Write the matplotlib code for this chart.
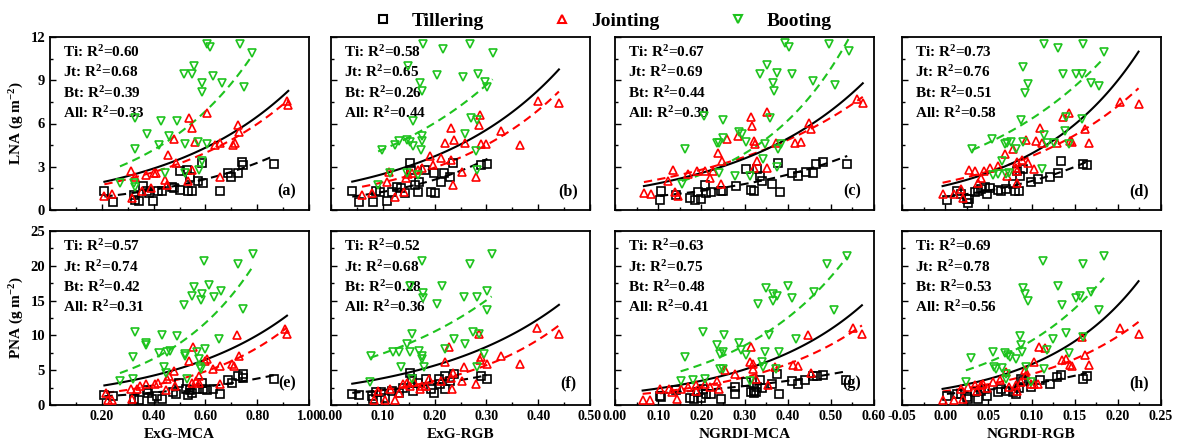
import numpy as np
import matplotlib.pyplot as plt
from matplotlib.lines import Line2D
from matplotlib.ticker import MultipleLocator, FixedLocator

plt.rcParams['font.family'] = ['Liberation Serif', 'DejaVu Serif']
plt.rcParams['font.weight'] = 'bold'
plt.rcParams['mathtext.fontset'] = 'custom'
plt.rcParams['mathtext.rm'] = 'Liberation Serif:bold'
plt.rcParams['mathtext.it'] = 'Liberation Serif:bold'
plt.rcParams['mathtext.bf'] = 'Liberation Serif:bold'
plt.rcParams['mathtext.default'] = 'rm'

# ---- data ---------------------------------------------------------------
# (a) ExG-MCA vs LNA
a_ti_x = [0.21, 0.245, 0.324, 0.327, 0.342, 0.36, 0.376, 0.383, 0.398, 0.417, 0.434, 0.47, 0.48, 0.502,
          0.502, 0.53, 0.532, 0.54, 0.547, 0.57, 0.592, 0.588, 0.655, 0.688, 0.70, 0.725, 0.743, 0.745, 0.866]
a_ti_y = [1.3, 0.55, 1.05, 0.7, 0.6, 1.65, 1.35, 1.15, 0.65, 1.3, 1.3, 1.6, 1.5, 2.7,
          1.4, 2.8, 1.3, 2.3, 1.3, 2.0, 1.85, 3.25, 1.3, 2.6, 2.3, 2.6, 3.35, 3.15, 3.2]
a_jt_x = [0.21, 0.24, 0.318, 0.313, 0.33, 0.37, 0.40, 0.41, 0.456, 0.443, 0.45, 0.48, 0.487, 0.535, 0.55,
          0.547, 0.56, 0.606, 0.636, 0.658, 0.658, 0.706, 0.713, 0.725, 0.728, 0.915, 0.92, 0.354, 0.39, 0.532]
a_jt_y = [1.0, 1.1, 0.8, 2.7, 2.3, 2.45, 2.6, 2.6, 3.8, 2.1, 1.75, 4.9, 3.25, 6.4, 5.7,
          2.8, 4.75, 6.75, 4.5, 4.65, 2.3, 4.5, 4.65, 5.9, 5.4, 7.55, 7.3, 1.3, 1.5, 2.0]
a_bt_x = [0.327, 0.328, 0.373, 0.42, 0.43, 0.46, 0.49, 0.445, 0.517, 0.547, 0.557, 0.52, 0.57, 0.585, 0.587,
          0.606, 0.618, 0.63, 0.663, 0.733, 0.75, 0.78, 0.606, 0.588, 0.574, 0.52, 0.27, 0.325, 0.33]
a_bt_y = [6.4, 4.2, 5.3, 4.5, 6.2, 5.1, 6.2, 2.55, 9.4, 9.4, 10.0, 4.6, 4.75, 8.8, 8.2,
          11.5, 11.3, 9.3, 8.8, 11.5, 8.5, 10.9, 4.6, 3.4, 2.8, 2.55, 1.85, 1.85, 1.6]

# (b) ExG-RGB vs LNA
b_ti_x = [0.041, 0.055, 0.081, 0.086, 0.094, 0.108, 0.117, 0.128, 0.135, 0.142, 0.153, 0.155, 0.162,
          0.17, 0.181, 0.194, 0.201, 0.198, 0.212, 0.218, 0.229, 0.236, 0.29, 0.302, 0.167]
b_ti_y = [1.35, 0.58, 0.58, 1.32, 1.28, 0.63, 1.28, 1.62, 1.51, 1.2, 3.25, 2.78, 1.74,
          1.97, 2.78, 1.28, 1.2, 2.55, 1.97, 2.55, 2.32, 3.25, 3.13, 3.18, 1.28]
b_jt_x = [0.06, 0.08, 0.109, 0.112, 0.124, 0.141, 0.145, 0.148, 0.157, 0.167, 0.192, 0.196, 0.22, 0.231, 0.231,
          0.235, 0.238, 0.253, 0.258, 0.279, 0.286, 0.288, 0.29, 0.299, 0.328, 0.365, 0.40, 0.44, 0.176, 0.212]
b_jt_y = [1.04, 1.2, 1.97, 2.67, 0.93, 1.28, 2.2, 2.48, 2.55, 2.78, 3.78, 3.09, 4.64, 5.69, 3.48,
          1.74, 4.87, 2.67, 4.64, 2.32, 5.92, 6.61, 4.57, 4.6, 5.45, 4.53, 7.54, 7.43, 2.9, 3.6]
b_bt_x = [0.098, 0.124, 0.131, 0.146, 0.152, 0.158, 0.158, 0.149, 0.172, 0.176, 0.178, 0.176, 0.176, 0.174,
          0.216, 0.205, 0.254, 0.269, 0.259, 0.271, 0.282, 0.283, 0.297, 0.301, 0.312, 0.279, 0.282,
          0.091, 0.113, 0.146, 0.168]
b_bt_y = [4.13, 4.48, 4.76, 4.87, 4.69, 4.41, 6.15, 9.98, 8.82, 8.24, 11.49, 5.1, 4.76, 4.18,
          11.19, 9.33, 9.24, 11.49, 5.29, 6.38, 6.27, 9.4, 8.87, 8.54, 10.9, 4.06, 2.78,
          1.74, 2.55, 2.55, 2.44]

# (c) NGRDI-MCA vs LNA
c_ti_x = [0.106, 0.104, 0.141, 0.174, 0.185, 0.199, 0.193, 0.209, 0.211, 0.222, 0.246, 0.281, 0.303, 0.316,
          0.323, 0.328, 0.336, 0.341, 0.363, 0.378, 0.383, 0.411, 0.424, 0.443, 0.459, 0.466, 0.483, 0.538, 0.251]
c_ti_y = [1.32, 0.67, 1.02, 0.81, 0.67, 0.74, 1.25, 1.71, 1.2, 1.25, 1.32, 1.66, 2.82, 1.39,
          1.32, 2.82, 2.36, 2.01, 1.82, 3.28, 1.25, 2.59, 2.36, 2.63, 2.59, 3.16, 3.35, 3.16, 1.32]
c_jt_x = [0.067, 0.083, 0.134, 0.139, 0.146, 0.17, 0.191, 0.209, 0.22, 0.227, 0.238, 0.247, 0.246, 0.26, 0.286,
          0.314, 0.317, 0.321, 0.325, 0.328, 0.323, 0.352, 0.352, 0.374, 0.418, 0.431, 0.449, 0.455, 0.561,
          0.574, 0.123]
c_jt_y = [1.2, 1.13, 2.77, 1.25, 0.97, 2.47, 2.7, 2.7, 2.24, 2.7, 3.97, 3.39, 1.82, 4.95, 5.13,
          6.44, 5.82, 4.78, 4.55, 3.39, 2.93, 6.81, 2.93, 4.67, 4.62, 4.74, 6.05, 5.59, 7.67,
          7.44, 2.01]
c_bt_x = [0.163, 0.206, 0.155, 0.25, 0.237, 0.241, 0.251, 0.242, 0.279, 0.288, 0.295, 0.304, 0.312, 0.335,
          0.352, 0.358, 0.348, 0.343, 0.367, 0.369, 0.376, 0.378, 0.376, 0.385, 0.394, 0.402, 0.411, 0.459,
          0.495, 0.51, 0.543]
c_bt_y = [4.2, 6.51, 1.82, 6.24, 4.67, 4.62, 4.97, 2.59, 2.36, 5.4, 5.24, 4.74, 2.36, 9.45,
          10.09, 6.35, 4.55, 3.51, 8.82, 8.24, 9.52, 4.2, 2.98, 4.55, 11.59, 11.32, 9.45, 8.94,
          11.52, 8.64, 11.06]

# (d) NGRDI-RGB vs LNA
d_ti_x = [0.002, 0.014, 0.018, 0.025, 0.026, 0.028, 0.034, 0.038, 0.042, 0.048, 0.046, 0.052, 0.061, 0.065,
          0.07, 0.079, 0.081, 0.086, 0.087, 0.083, 0.09, 0.099, 0.121, 0.131, 0.134, 0.16, 0.164, 0.108]
d_ti_y = [0.67, 1.32, 1.13, 0.74, 0.5, 0.79, 1.25, 1.32, 1.43, 1.09, 1.62, 1.55, 1.39, 1.32,
          1.48, 1.78, 1.32, 1.32, 2.36, 2.7, 2.82, 1.94, 2.29, 2.59, 3.37, 3.16, 3.12, 2.12]
d_jt_x = [-0.003, 0.01, 0.018, 0.021, 0.028, 0.034, 0.038, 0.041, 0.045, 0.052, 0.061, 0.069, 0.072, 0.079,
          0.083, 0.083, 0.083, 0.089, 0.094, 0.096, 0.103, 0.105, 0.11, 0.112, 0.129, 0.136, 0.144, 0.145,
          0.147, 0.162, 0.167, 0.202, 0.224, 0.082]
d_jt_y = [1.13, 1.09, 1.45, 0.81, 2.77, 2.7, 1.89, 2.24, 2.7, 2.93, 3.05, 3.9, 2.35, 4.2,
          2.7, 1.89, 3.32, 3.44, 4.83, 3.28, 2.84, 4.78, 5.72, 4.67, 4.67, 6.46, 6.76, 4.78,
          4.74, 5.59, 4.62, 7.5, 7.37, 2.93]
d_bt_x = [0.031, 0.054, 0.069, 0.072, 0.076, 0.066, 0.061, 0.07, 0.074, 0.055, 0.088, 0.09, 0.09, 0.096,
          0.093, 0.082, 0.114, 0.114, 0.112, 0.118, 0.126, 0.131, 0.136, 0.139, 0.14, 0.143, 0.152, 0.158,
          0.16, 0.169, 0.178, 0.184, 0.159]
d_bt_y = [4.2, 4.9, 4.55, 4.67, 4.71, 3.43, 2.5, 2.5, 2.54, 2.42, 6.24, 4.74, 9.95, 8.73,
          8.15, 4.2, 5.2, 11.48, 2.84, 4.67, 4.67, 11.25, 9.4, 5.49, 6.44, 4.55, 9.4, 9.45,
          11.48, 8.82, 8.59, 10.97, 6.3]

# (e) ExG-MCA vs PNA
e_ti_x = [0.21, 0.242, 0.324, 0.342, 0.376, 0.38, 0.395, 0.413, 0.431, 0.473, 0.487, 0.499, 0.527, 0.532,
          0.542, 0.547, 0.569, 0.588, 0.591, 0.655, 0.688, 0.703, 0.725, 0.744, 0.744, 0.866, 0.606, 0.629]
e_ti_y = [1.5, 1.36, 0.87, 0.78, 2.09, 1.75, 0.87, 1.26, 0.87, 1.84, 1.65, 3.2, 2.23, 1.5,
          2.14, 1.75, 2.23, 3.2, 2.23, 1.65, 3.59, 3.1, 4.17, 4.42, 3.93, 3.69, 2.14, 2.23]
e_jt_x = [0.223, 0.238, 0.215, 0.316, 0.313, 0.334, 0.346, 0.371, 0.406, 0.416, 0.453, 0.458, 0.446, 0.48,
          0.483, 0.535, 0.551, 0.547, 0.562, 0.577, 0.599, 0.606, 0.629, 0.658, 0.658, 0.703, 0.71, 0.728,
          0.722, 0.908, 0.915, 0.577]
e_jt_y = [0.78, 0.78, 1.75, 0.87, 2.33, 2.23, 2.72, 2.96, 2.96, 3.2, 3.69, 4.17, 2.09, 4.9,
          2.72, 6.36, 8.3, 3.2, 3.45, 4.17, 6.36, 6.6, 5.15, 2.96, 5.63, 5.87, 5.63, 7.09,
          10.1, 10.97, 10.15, 3.2]
e_bt_x = [0.27, 0.321, 0.321, 0.329, 0.369, 0.372, 0.42, 0.431, 0.44, 0.446, 0.453, 0.465, 0.49, 0.517,
          0.52, 0.523, 0.53, 0.547, 0.557, 0.569, 0.577, 0.58, 0.584, 0.585, 0.594, 0.599, 0.614, 0.632,
          0.654, 0.661, 0.725, 0.747, 0.782, 0.584]
e_bt_y = [3.4, 3.79, 6.84, 10.49, 8.88, 8.69, 7.43, 10.0, 5.39, 4.66, 7.57, 7.82, 9.9, 14.37,
          7.33, 7.09, 3.69, 15.68, 16.89, 7.57, 6.6, 5.39, 15.1, 15.97, 20.68, 8.06, 17.18, 15.58,
          9.51, 16.41, 20.29, 13.74, 21.65, 5.15]

# (f) ExG-RGB vs PNA
f_ti_x = [0.041, 0.054, 0.08, 0.081, 0.087, 0.097, 0.105, 0.117, 0.131, 0.139, 0.153, 0.157, 0.159,
          0.168, 0.183, 0.194, 0.198, 0.209, 0.211, 0.22, 0.229, 0.238, 0.29, 0.301, 0.22]
f_ti_y = [1.65, 1.41, 1.26, 0.87, 1.89, 1.89, 1.02, 1.99, 1.75, 2.48, 4.66, 3.69, 1.99,
          3.2, 3.69, 2.23, 1.75, 3.69, 2.96, 4.17, 3.45, 4.42, 4.17, 3.69, 2.23]
f_jt_x = [0.083, 0.091, 0.105, 0.113, 0.124, 0.131, 0.139, 0.146, 0.152, 0.161, 0.172, 0.176, 0.19, 0.212,
          0.22, 0.227, 0.231, 0.233, 0.235, 0.253, 0.257, 0.279, 0.286, 0.288, 0.29, 0.301, 0.328, 0.365,
          0.398, 0.44, 0.183]
f_jt_y = [0.78, 1.99, 0.78, 2.23, 0.78, 1.75, 3.06, 3.2, 2.72, 3.3, 2.23, 2.72, 3.69, 3.45,
          6.12, 8.3, 3.93, 2.23, 4.66, 3.45, 5.39, 2.96, 10.24, 6.5, 6.84, 5.87, 7.09, 5.87,
          11.12, 10.24, 2.72]
f_bt_x = [0.076, 0.078, 0.12, 0.131, 0.135, 0.146, 0.156, 0.152, 0.153, 0.17, 0.176, 0.177, 0.178, 0.176,
          0.176, 0.179, 0.205, 0.214, 0.22, 0.237, 0.257, 0.258, 0.268, 0.274, 0.295, 0.281, 0.301, 0.302,
          0.31, 0.286, 0.282, 0.157]
f_bt_y = [3.35, 7.09, 7.57, 7.67, 5.49, 8.79, 10.24, 7.67, 17.04, 7.82, 20.68, 16.07, 15.34, 7.09,
          6.6, 5.53, 14.47, 17.04, 8.06, 9.51, 15.58, 8.79, 20.29, 10.49, 7.33, 15.58, 16.31, 13.64,
          21.65, 10.15, 5.39, 3.69]

# (g) NGRDI-MCA vs PNA
g_ti_x = [0.104, 0.106, 0.141, 0.174, 0.183, 0.199, 0.192, 0.205, 0.211, 0.222, 0.246, 0.279, 0.279, 0.303,
          0.315, 0.322, 0.328, 0.335, 0.341, 0.363, 0.376, 0.38, 0.411, 0.424, 0.441, 0.459, 0.468, 0.481,
          0.536, 0.321, 0.326]
g_ti_y = [1.36, 1.11, 2.18, 0.97, 0.87, 0.97, 1.84, 2.32, 1.6, 1.6, 0.87, 2.57, 1.6, 3.29,
          1.84, 1.69, 2.57, 3.54, 2.42, 3.05, 4.5, 1.6, 3.44, 3.05, 3.54, 4.12, 4.12, 4.36,
          3.54, 2.08, 1.84]
g_jt_x = [0.064, 0.082, 0.104, 0.126, 0.133, 0.143, 0.152, 0.17, 0.188, 0.208, 0.221, 0.237, 0.241, 0.255,
          0.279, 0.314, 0.312, 0.319, 0.319, 0.326, 0.354, 0.37, 0.413, 0.424, 0.446, 0.455, 0.552, 0.572,
          0.188]
g_jt_y = [0.73, 0.73, 2.32, 2.32, 1.84, 0.87, 2.32, 2.57, 2.81, 3.05, 2.57, 3.39, 2.32, 4.99,
          4.5, 8.38, 6.2, 5.96, 5.23, 3.78, 2.81, 5.47, 5.71, 5.62, 10.07, 4.6, 11.04, 10.17,
          2.08]
g_bt_x = [0.152, 0.163, 0.18, 0.203, 0.209, 0.237, 0.243, 0.25, 0.252, 0.243, 0.288, 0.293, 0.303, 0.312,
          0.332, 0.343, 0.348, 0.35, 0.356, 0.365, 0.367, 0.376, 0.372, 0.38, 0.40, 0.41, 0.419, 0.46,
          0.492, 0.508, 0.538, 0.341, 0.25]
g_bt_y = [3.44, 6.92, 3.54, 10.46, 3.78, 8.62, 7.31, 7.65, 10.07, 5.23, 8.86, 7.89, 7.17, 3.44,
          14.53, 5.47, 7.65, 16.85, 10.07, 15.01, 15.88, 15.64, 5.23, 7.65, 17.09, 15.4, 9.44, 16.27,
          20.24, 13.7, 21.45, 6.2, 5.23]

# (h) NGRDI-RGB vs PNA
h_ti_x = [0.002, 0.014, 0.018, 0.025, 0.026, 0.034, 0.038, 0.042, 0.046, 0.048, 0.061, 0.065, 0.07, 0.079,
          0.082, 0.085, 0.088, 0.09, 0.099, 0.11, 0.121, 0.129, 0.134, 0.16, 0.164]
h_ti_y = [1.36, 1.6, 1.6, 1.11, 0.87, 1.84, 0.87, 1.94, 2.32, 1.36, 1.84, 2.32, 1.94, 1.84,
          1.6, 2.42, 3.78, 3.39, 2.57, 3.63, 3.05, 4.02, 4.36, 3.68, 4.12]
h_jt_x = [-0.003, 0.01, 0.018, 0.021, 0.026, 0.034, 0.037, 0.041, 0.044, 0.049, 0.055, 0.063, 0.07, 0.074,
          0.082, 0.083, 0.088, 0.093, 0.094, 0.099, 0.103, 0.108, 0.103, 0.109, 0.116, 0.135, 0.14, 0.145,
          0.147, 0.158, 0.162, 0.167, 0.202, 0.224]
h_jt_y = [0.73, 0.73, 2.32, 0.87, 2.57, 2.81, 2.08, 2.81, 3.05, 2.47, 3.29, 3.63, 4.75, 2.57,
          2.81, 2.08, 3.29, 4.99, 4.26, 3.05, 3.05, 3.05, 6.2, 8.38, 8.14, 6.44, 6.59, 5.81,
          5.62, 9.83, 7.17, 5.71, 11.04, 10.17]
h_bt_x = [0.024, 0.03, 0.055, 0.057, 0.059, 0.066, 0.069, 0.073, 0.075, 0.07, 0.071, 0.082, 0.087, 0.088,
          0.089, 0.09, 0.093, 0.096, 0.094, 0.099, 0.113, 0.114, 0.118, 0.125, 0.131, 0.135, 0.14, 0.143,
          0.152, 0.156, 0.16, 0.16, 0.169, 0.178, 0.184]
h_bt_y = [3.29, 6.78, 7.65, 5.47, 5.23, 5.33, 7.41, 7.17, 6.92, 4.5, 3.78, 6.68, 9.98, 8.62,
          7.65, 16.85, 15.88, 15.01, 5.47, 3.29, 20.72, 5.23, 7.89, 9.49, 17.09, 14.43, 10.31, 7.41,
          15.4, 15.64, 20.24, 9.83, 16.27, 13.7, 21.45]

# exponential fits y = a*exp(b*x), order: Ti, Jt, Bt, All
fit_a = [(0.60, 2.12), (1.16, 2.048), (1.55, 2.477), (1.28, 2.027)]
fit_b = [(0.754, 5.13), (1.25, 4.28), (2.92, 3.63), (1.67, 4.01)]
fit_c = [(0.715, 3.08), (1.61, 2.76), (0.985, 4.6), (1.33, 3.29)]
fit_d = [(0.905, 7.97), (1.93, 6.59), (3.44, 6.09), (1.70, 8.33)]
fit_e = [(0.85, 1.87), (0.985, 2.65), (2.12, 2.86), (1.79, 2.153)]
fit_f = [(1.52, 3.43), (1.29, 4.96), (5.19, 3.55), (2.61, 3.88)]
fit_g = [(1.31, 2.44), (1.25, 3.87), (2.7, 3.84), (1.63, 3.8)]
fit_h = [(1.58, 6.52), (1.99, 8.0), (4.1, 8.12), (2.38, 8.98)]

# R2 labels, order: Ti, Jt, Bt, All
r2_a = [0.60, 0.68, 0.39, 0.33]
r2_b = [0.58, 0.65, 0.26, 0.44]
r2_c = [0.67, 0.69, 0.44, 0.39]
r2_d = [0.73, 0.76, 0.51, 0.58]
r2_e = [0.57, 0.74, 0.42, 0.31]
r2_f = [0.52, 0.68, 0.28, 0.36]
r2_g = [0.63, 0.75, 0.48, 0.41]
r2_h = [0.69, 0.78, 0.53, 0.56]

x_labels = ['ExG-MCA', 'ExG-RGB', 'NGRDI-MCA', 'NGRDI-RGB']
y_labels = ['LNA (g m$^{-2}$)', 'PNA (g m$^{-2}$)']
stage_names = ['Tillering', 'Jointing', 'Booting']
stage_short = ['Ti', 'Jt', 'Bt', 'All']

# ---- styling ---------------------------------------------------------------
GREEN = '#1ec31e'
RED = '#ff0000'
colors = ['black', RED, GREEN]
markers = ['s', '^', 'v']

# axis setup per column: (xmin, xmax, major, minor, major tick values)
col_axes = [
    (0.0, 1.0, 0.2, 0.1, [0.2, 0.4, 0.6, 0.8, 1.0]),
    (0.0, 0.5, 0.1, 0.05, None),
    (0.0, 0.6, 0.1, 0.05, None),
    (-0.05, 0.25, 0.05, 0.025, None),
]
row_axes = [(0, 12, 3, 1.5), (0, 25, 5, 2.5)]

panels = [
    [(a_ti_x, a_ti_y), (a_jt_x, a_jt_y), (a_bt_x, a_bt_y), fit_a, r2_a, '(a)'],
    [(b_ti_x, b_ti_y), (b_jt_x, b_jt_y), (b_bt_x, b_bt_y), fit_b, r2_b, '(b)'],
    [(c_ti_x, c_ti_y), (c_jt_x, c_jt_y), (c_bt_x, c_bt_y), fit_c, r2_c, '(c)'],
    [(d_ti_x, d_ti_y), (d_jt_x, d_jt_y), (d_bt_x, d_bt_y), fit_d, r2_d, '(d)'],
    [(e_ti_x, e_ti_y), (e_jt_x, e_jt_y), (e_bt_x, e_bt_y), fit_e, r2_e, '(e)'],
    [(f_ti_x, f_ti_y), (f_jt_x, f_jt_y), (f_bt_x, f_bt_y), fit_f, r2_f, '(f)'],
    [(g_ti_x, g_ti_y), (g_jt_x, g_jt_y), (g_bt_x, g_bt_y), fit_g, r2_g, '(g)'],
    [(h_ti_x, h_ti_y), (h_jt_x, h_jt_y), (h_bt_x, h_bt_y), fit_h, r2_h, '(h)'],
]

W, H = 1177, 441
fig = plt.figure(figsize=(W / 100, H / 100), dpi=100)

col_left = [50, 331, 615, 902]
col_width = 259
row_top = [37, 231]
row_height = [173, 174]

for idx, (ti, jt, bt, fit, r2, tag) in enumerate(panels):
    row, col = divmod(idx, 4)
    rect = [col_left[col] / W, 1 - (row_top[row] + row_height[row]) / H,
            col_width / W, row_height[row] / H]
    ax = fig.add_axes(rect)

    series = [ti, jt, bt]
    for (sx, sy), c, m in zip(series, colors, markers):
        ax.plot(sx, sy, linestyle='none', marker=m, ms=6.3, mfc='none', mec=c, mew=1.2, zorder=4)

    # fitted curves: dashed per stage, solid for all data
    all_x = np.concatenate([np.asarray(s[0]) for s in series])
    for k, (a, b) in enumerate(fit):
        if k < 3:
            sx = np.asarray(series[k][0])
            xs = np.linspace(sx.min(), sx.max(), 100)
            ax.plot(xs, a * np.exp(b * xs), color=colors[k], lw=1.5, dashes=(4, 2.5), zorder=3)
        else:
            xs = np.linspace(all_x.min(), all_x.max(), 100)
            ax.plot(xs, a * np.exp(b * xs), color='black', lw=1.5, zorder=3)

    for k, (name, r) in enumerate(zip(stage_short, r2)):
        ax.text(0.05, 0.912 - k * 0.117, f'{name}: R$^2$={r:.2f}', transform=ax.transAxes,
                va='center', ha='left', fontsize=11, fontweight='bold', zorder=1)
    ax.text(0.915, 0.105 if row == 0 else 0.125, tag, transform=ax.transAxes,
            ha='center', va='center', fontsize=11.5, fontweight='bold')

    xmin, xmax, xmaj, xmin_step, xticks = col_axes[col]
    ymin, ymax, ymaj, ymin_step = row_axes[row]
    ax.set_xlim(xmin, xmax)
    ax.set_ylim(ymin, ymax)
    if xticks is not None:
        ax.xaxis.set_major_locator(FixedLocator(xticks))
    else:
        ax.xaxis.set_major_locator(MultipleLocator(xmaj))
    ax.xaxis.set_minor_locator(MultipleLocator(xmin_step))
    ax.yaxis.set_major_locator(MultipleLocator(ymaj))
    ax.yaxis.set_minor_locator(MultipleLocator(ymin_step))
    ax.xaxis.set_major_formatter(plt.FuncFormatter(lambda v, p: f'{v:.2f}' if col == 3 else f'{v:.1f}'))

    ax.tick_params(which='both', direction='in', top=False, right=False, labelsize=10, width=1)
    ax.tick_params(axis='y', labelsize=10.5)
    ax.tick_params(which='major', length=4)
    ax.tick_params(which='minor', length=2.5)
    for sp in ax.spines.values():
        sp.set_linewidth(1.3)

    if row == 0:
        ax.tick_params(labelbottom=False)
    else:
        ax.set_xlabel(x_labels[col], fontsize=11, fontweight='bold', labelpad=4)
    if col == 0:
        ax.set_ylabel(y_labels[row], fontsize=11, fontweight='bold', labelpad=3)
    else:
        ax.tick_params(labelleft=False)
    for lab in ax.get_xticklabels() + ax.get_yticklabels():
        lab.set_fontweight('bold')

handles = [Line2D([], [], linestyle='none', marker=m, ms=6.3, mfc='none', mec=c, mew=1.5)
           for m, c in zip(markers, colors)]
leg = fig.legend(handles, stage_names, loc='center', bbox_to_anchor=(0.512, 0.952), ncol=3,
                 frameon=False, fontsize=14, handlelength=1.0, handletextpad=1.0,
                 columnspacing=3.5, borderpad=0.1)
for t in leg.get_texts():
    t.set_fontweight('bold')

fig.savefig('out.png', dpi=100)
